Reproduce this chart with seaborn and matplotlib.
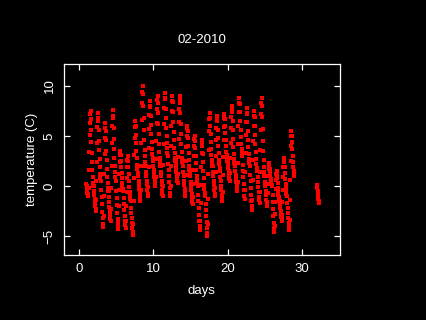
import matplotlib
matplotlib.use("Agg")
import matplotlib.pyplot as plt
import pandas as pd
import seaborn as sns

# hourly temperature readings (C), one list per day
feb01 = [0.2, 0.0, -0.3, -0.4, -0.7, -0.8, -1.0, -1.0, -0.2, 1.6, 3.4, 5.1, 6.3, 7.2, 7.5, 6.7, 5.6, 4.4, 3.3, 2.4, 1.6, 0.9, 0.3, 0.0]
feb02 = [0.0, -0.5, -0.9, -1.3, -1.7, -2.0, -2.3, -2.5, -1.4, 0.5, 2.4, 4.3, 5.9, 6.8, 7.3, 6.5, 5.6, 4.5, 3.6, 2.7, 1.9, 1.2, 0.8, 0.5]
feb03 = [0.5, -0.4, -1.1, -1.8, -2.6, -3.2, -3.8, -4.1, -3.0, -1.0, 1.2, 3.2, 4.8, 5.8, 6.3, 5.5, 4.6, 3.5, 2.6, 1.7, 0.9, 0.3, -0.2, -0.5]
feb04 = [-0.5, -1.1, -1.6, -2.1, -2.5, -2.9, -3.3, -3.5, -2.3, -0.2, 2.0, 4.3, 6.0, 7.0, 7.6, 6.8, 5.8, 4.7, 3.7, 2.8, 2.0, 1.4, 0.9, 0.5]
feb05 = [0.5, -0.5, -1.2, -1.9, -2.7, -3.3, -3.9, -4.3, -3.5, -2.0, -0.4, 1.2, 2.4, 3.1, 3.5, 3.1, 2.5, 1.9, 1.3, 0.8, 0.3, 0.0, -0.3, -0.5]
feb06 = [-0.5, -1.2, -1.8, -2.4, -3.0, -3.5, -3.9, -4.2, -3.5, -2.0, -0.6, 0.8, 1.9, 2.6, 3.0, 2.5, 1.9, 1.2, 0.5, -0.1, -0.6, -1.0, -1.3, -1.5]
feb07 = [-1.5, -2.2, -2.7, -3.2, -3.7, -4.2, -4.6, -4.9, -3.8, -1.5, 0.8, 3.1, 4.8, 5.9, 6.5, 6.0, 5.1, 4.3, 3.5, 2.8, 2.1, 1.7, 1.3, 1.0]
feb08 = [1.0, 0.5, 0.1, -0.3, -0.6, -1.0, -1.3, -1.5, -0.4, 2.0, 4.3, 6.6, 8.3, 9.4, 10.0, 9.2, 8.0, 6.8, 5.6, 4.6, 3.6, 3.0, 2.4, 2.0]
feb09 = [2.0, 1.4, 1.0, 0.5, 0.1, -0.4, -0.8, -1.0, -0.1, 1.9, 3.8, 5.7, 7.1, 8.0, 8.5, 7.9, 7.0, 6.1, 5.2, 4.4, 3.7, 3.2, 2.8, 2.5]
feb10 = [2.5, 2.0, 1.6, 1.2, 0.9, 0.5, 0.2, 0.0, 0.9, 2.7, 4.5, 6.3, 7.7, 8.6, 9.0, 8.3, 7.3, 6.2, 5.2, 4.2, 3.4, 2.8, 2.4, 2.0]
feb11 = [2.0, 1.4, 1.0, 0.5, 0.1, -0.4, -0.8, -1.0, 0.0, 2.1, 4.2, 6.2, 7.8, 8.8, 9.3, 8.7, 7.7, 6.8, 5.8, 5.0, 4.3, 3.8, 3.3, 3.0]
feb12 = [3.0, 2.2, 1.6, 1.0, 0.4, -0.2, -0.7, -1.0, 0.0, 2.0, 4.0, 6.0, 7.5, 8.5, 9.0, 8.4, 7.4, 6.4, 5.4, 4.6, 3.8, 3.3, 2.8, 2.5]
feb13 = [2.5, 2.1, 1.7, 1.4, 1.1, 0.7, 0.5, 0.3, 1.2, 2.9, 4.7, 6.4, 7.7, 8.6, 9.0, 8.3, 7.3, 6.2, 5.2, 4.2, 3.4, 2.8, 2.4, 2.0]
feb14 = [2.0, 1.4, 1.0, 0.5, 0.1, -0.4, -0.8, -1.0, -0.3, 1.1, 2.5, 3.9, 5.0, 5.7, 6.0, 5.5, 4.8, 4.0, 3.3, 2.6, 2.0, 1.6, 1.3, 1.0]
feb15 = [1.0, 0.4, 0.0, -0.4, -0.8, -1.2, -1.6, -1.8, -1.1, 0.2, 1.6, 3.0, 4.0, 4.7, 5.0, 4.5, 3.8, 3.0, 2.3, 1.6, 1.0, 0.6, 0.3, 0.0]
feb16 = [0.0, -0.9, -1.5, -2.2, -2.9, -3.5, -4.0, -4.4, -3.5, -1.7, 0.1, 1.9, 3.3, 4.2, 4.6, 4.0, 3.2, 2.4, 1.5, 0.8, 0.1, -0.3, -0.7, -1.0]
feb17 = [-1.0, -1.8, -2.4, -3.0, -3.6, -4.2, -4.7, -5.0, -3.8, -1.3, 1.2, 3.6, 5.5, 6.7, 7.3, 6.8, 6.0, 5.2, 4.4, 3.7, 3.1, 2.6, 2.3, 2.0]
feb18 = [2.0, 1.4, 1.0, 0.5, 0.1, -0.4, -0.8, -1.0, -0.2, 1.4, 3.0, 4.6, 5.8, 6.6, 7.0, 6.5, 5.6, 4.8, 4.0, 3.3, 2.6, 2.2, 1.8, 1.5]
feb19 = [1.5, 0.9, 0.5, 0.0, -0.4, -0.9, -1.3, -1.5, -0.6, 1.1, 2.9, 4.6, 5.9, 6.8, 7.2, 6.7, 6.0, 5.3, 4.6, 4.0, 3.4, 3.1, 2.7, 2.5]
feb20 = [2.5, 2.1, 1.8, 1.5, 1.2, 0.9, 0.7, 0.5, 1.3, 2.8, 4.3, 5.8, 6.9, 7.6, 8.0, 7.4, 6.5, 5.6, 4.7, 3.9, 3.2, 2.7, 2.3, 2.0]
feb21 = [2.0, 1.5, 1.1, 0.8, 0.4, 0.0, -0.3, -0.5, 0.4, 2.3, 4.2, 6.0, 7.4, 8.3, 8.8, 8.2, 7.4, 6.5, 5.6, 4.9, 4.2, 3.7, 3.3, 3.0]
feb22 = [3.0, 2.1, 1.5, 0.9, 0.2, -0.4, -1.0, -1.3, -0.4, 1.4, 3.3, 5.1, 6.4, 7.3, 7.8, 7.2, 6.4, 5.5, 4.6, 3.9, 3.2, 2.7, 2.3, 2.0]
feb23 = [2.0, 1.1, 0.5, -0.2, -0.9, -1.5, -2.0, -2.4, -1.4, 0.6, 2.6, 4.5, 6.0, 7.0, 7.5, 6.9, 6.0, 5.1, 4.2, 3.4, 2.7, 2.2, 1.8, 1.5]
feb24 = [1.5, 0.9, 0.4, -0.1, -0.6, -1.1, -1.4, -1.7, -0.6, 1.4, 3.6, 5.6, 7.2, 8.3, 8.8, 8.0, 6.9, 5.7, 4.5, 3.5, 2.6, 1.9, 1.4, 1.0]
feb25 = [1.0, 0.4, 0.0, -0.5, -0.9, -1.4, -1.8, -2.0, -1.6, -0.7, 0.2, 1.0, 1.7, 2.1, 2.3, 2.1, 1.7, 1.4, 1.0, 0.7, 0.5, 0.3, 0.1, 0.0]
feb26 = [0.0, -0.9, -1.6, -2.3, -3.0, -3.7, -4.2, -4.6, -4.0, -2.8, -1.6, -0.3, 0.6, 1.2, 1.5, 1.2, 0.8, 0.3, -0.2, -0.5, -0.9, -1.1, -1.4, -1.5]
feb27 = [-1.5, -1.9, -2.2, -2.5, -2.8, -3.1, -3.3, -3.5, -2.9, -1.6, -0.4, 0.9, 1.9, 2.5, 2.8, 2.4, 1.9, 1.3, 0.7, 0.2, -0.2, -0.5, -0.8, -1.0]
feb28 = [-1.0, -1.7, -2.2, -2.7, -3.2, -3.7, -4.1, -4.4, -3.4, -1.4, 0.6, 2.5, 4.0, 5.0, 5.5, 5.0, 4.4, 3.7, 3.0, 2.4, 1.9, 1.5, 1.2, 1.0]
# a few readings on day 32 (4 March)
mar04 = [0.1, -0.2, -0.5, -0.8, -1.1, -1.3, -1.5, -1.7]

feb_days = [feb01, feb02, feb03, feb04, feb05, feb06, feb07, feb08, feb09, feb10,
            feb11, feb12, feb13, feb14, feb15, feb16, feb17, feb18, feb19, feb20,
            feb21, feb22, feb23, feb24, feb25, feb26, feb27, feb28]

rows = []
for d, vals in enumerate(feb_days, start=1):
    for h, t in enumerate(vals):
        rows.append((d + h / 24, t))
for h, t in enumerate(mar04):
    rows.append((32 + h / 24, t))
df = pd.DataFrame(rows, columns=["days", "temp"])

plt.rcParams["font.family"] = ["Liberation Sans", "DejaVu Sans"]

fig = plt.figure(figsize=(4.26, 3.2), dpi=100, facecolor="black")
ax = fig.add_axes([0.150, 0.203, 0.648, 0.597], facecolor="black")

sns.scatterplot(data=df, x="days", y="temp", color="red", marker="s",
                s=6.5, linewidth=0, ax=ax)

ax.set_xlim(-2.0, 35.1)
ax.set_ylim(-6.9, 12.2)
ax.set_xticks([0, 10, 20, 30])
ax.set_yticks([-5, 0, 5, 10])
for sp in ax.spines.values():
    sp.set_color("white")
    sp.set_linewidth(0.9)
ax.tick_params(direction="in", length=4.5, width=0.9, colors="white",
               labelsize=9.5, top=True, right=True, pad=6)
ax.tick_params(axis="y", labelrotation=90)
for lbl in ax.get_yticklabels():
    lbl.set_va("center")

ax.set_xlabel("days", color="white", fontsize=9.5, labelpad=7)
ax.set_ylabel("temperature (C)", color="white", fontsize=9.5, labelpad=4)
ax.set_title("02-2010", color="white", fontsize=9.5, pad=15)

fig.savefig("out.png", dpi=100, facecolor="black")
